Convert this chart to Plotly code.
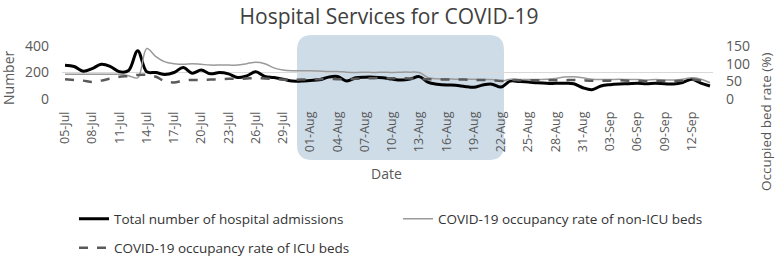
import pandas as pd
import plotly.graph_objects as go

# ---- data ----
dates = pd.date_range("2020-07-05", "2020-09-14", freq="D")

admissions = [255, 245, 210, 230, 262, 245, 205, 215, 365, 205,
              200, 185, 200, 238, 195, 218, 190, 200, 190, 162,
              175, 205, 170, 162, 150, 135, 135, 140, 145, 165,
              170, 136, 160, 165, 165, 160, 150, 143, 150, 169,
              125, 112, 106, 104, 95, 88, 106, 112, 90, 135,
              132, 128, 122, 118, 118, 118, 115, 85, 70, 98,
              108, 113, 115, 118, 115, 118, 115, 113, 125, 149,
              120, 98]

non_icu_rate = [70, 70, 70, 70, 70, 70, 70, 66, 60, 143,
                120, 105, 100, 98, 100, 98, 96, 96, 96, 96,
                100, 104, 100, 88, 82, 80, 80, 80, 79, 78,
                78, 76, 75, 76, 75, 76, 75, 76, 76, 75,
                60, 57, 57, 56, 56, 56, 55, 55, 50, 56,
                55, 55, 55, 56, 58, 62, 63, 60, 56, 55,
                55, 56, 55, 55, 54, 55, 54, 54, 56, 60,
                56, 46]

icu_rate = [56, 54, 52, 48, 52, 58, 63, 65, 68, 68,
            63, 50, 47, 52, 54, 54, 55, 56, 57, 57,
            58, 59, 58, 57, 55, 54, 55, 56, 56, 57,
            56, 56, 57, 58, 59, 59, 59, 59, 58, 57,
            56, 56, 55, 55, 55, 54, 54, 53, 51, 54,
            53, 53, 53, 53, 53, 53, 54, 53, 52, 52,
            52, 53, 52, 52, 50, 51, 51, 50, 52, 55,
            52, 46]

left_ticks = [0, 200, 400]
right_ticks = [0, 50, 100, 150]

title_text = "Hospital Services for COVID-19"
names = ["Total number of hospital admissions",
         "COVID-19 occupancy rate of non-ICU beds",
         "COVID-19 occupancy rate of ICU beds"]

# ---- figure ----
W, H = 778, 256
L, R, T, B = 62, 65, 46, 157
pw, ph = W - L - R, H - T - B

def px_x(p):
    return (p - L) / pw

def px_y(p):
    return (H - B - p) / ph

FONT = "Open Sans, Noto Sans, DejaVu Sans, sans-serif"
GREY_TXT = "#595959"

fig = go.Figure()
fig.add_trace(go.Scatter(x=dates, y=admissions, name=names[0], mode="lines",
                         line=dict(color="#000000", width=3, shape="spline"),
                         legend="legend"))
fig.add_trace(go.Scatter(x=dates, y=non_icu_rate, name=names[1], mode="lines",
                         line=dict(color="#9a9a9a", width=1.5, shape="spline"),
                         yaxis="y2", legend="legend2"))
fig.add_trace(go.Scatter(x=dates, y=icu_rate, name=names[2], mode="lines",
                         line=dict(color="#5a5a5a", width=2.5, dash="dash", shape="spline"),
                         yaxis="y2", legend="legend3"))

# rounded highlight box
x0, x1 = px_x(297), px_x(504)
y0, y1 = px_y(160), px_y(35)
rx, ry = 15 / pw, 15 / ph
path = (f"M {x0+rx},{y1} L {x1-rx},{y1} Q {x1},{y1} {x1},{y1-ry} "
        f"L {x1},{y0+ry} Q {x1},{y0} {x1-rx},{y0} L {x0+rx},{y0} "
        f"Q {x0},{y0} {x0},{y0+ry} L {x0},{y1-ry} Q {x0},{y1} {x0+rx},{y1} Z")
fig.add_shape(type="path", path=path, xref="paper", yref="paper",
              fillcolor="rgba(190,208,224,0.75)", line=dict(width=0), layer="between")

start = dates[0] - pd.Timedelta(hours=8)
end = dates[-1] + pd.Timedelta(hours=8)

legend_common = dict(orientation="h", xanchor="left", yanchor="middle",
                     xref="container", yref="container",
                     font=dict(family=FONT, size=13.5, color="#333333"),
                     bgcolor="rgba(0,0,0,0)", borderwidth=0)

fig.update_layout(
    width=W, height=H,
    margin=dict(l=L, r=R, t=T, b=B),
    paper_bgcolor="white", plot_bgcolor="white",
    title=dict(text=title_text, x=0.5, xanchor="center", y=1 - 17 / H, yanchor="middle",
               font=dict(family=FONT, size=21, color="#404040")),
    xaxis=dict(type="date", range=[start, end], tick0=dates[0], dtick=3 * 86400000,
               tickformat="%d-%b", tickangle=-90, showgrid=False, zeroline=False,
               showline=False, ticks="", ticklabelstandoff=9,
               tickfont=dict(family=FONT, size=12.5, color=GREY_TXT)),
    yaxis=dict(range=[0, 400], tickvals=left_ticks, showgrid=True, gridcolor="#d9d9d9",
               gridwidth=1, zeroline=False, showline=False, ticks="", ticklabelstandoff=12,
               tickfont=dict(family=FONT, size=14, color=GREY_TXT)),
    yaxis2=dict(range=[0, 150], tickvals=right_ticks, overlaying="y", side="right",
                showgrid=False, zeroline=False, showline=False, ticks="", ticklabelstandoff=12,
                tickfont=dict(family=FONT, size=14, color=GREY_TXT)),
    legend=dict(x=74 / W, y=1 - 219 / H, **legend_common),
    legend2=dict(x=398 / W, y=1 - 219 / H, **legend_common),
    legend3=dict(x=74 / W, y=1 - 248 / H, **legend_common),
    showlegend=True,
)

fig.add_annotation(text="Number", xref="paper", yref="paper", x=px_x(8), y=px_y(78),
                   xanchor="center", yanchor="middle", textangle=-90, showarrow=False,
                   font=dict(family=FONT, size=14, color=GREY_TXT))
fig.add_annotation(text="Date", xref="paper", yref="paper", x=px_x(386), y=px_y(173),
                   xanchor="center", yanchor="middle", showarrow=False,
                   font=dict(family=FONT, size=14, color=GREY_TXT))
fig.add_annotation(text="Occupied bed rate (%)", xref="paper", yref="paper",
                   x=px_x(766), y=px_y(122), xanchor="center", yanchor="middle",
                   textangle=-90, showarrow=False,
                   font=dict(family=FONT, size=13.5, color=GREY_TXT))

fig.write_html("out.html")
